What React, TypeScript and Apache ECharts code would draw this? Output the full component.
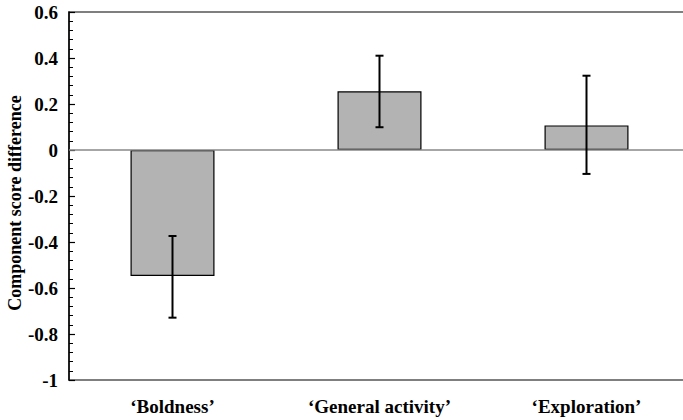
import React, { useEffect, useRef } from "react";
import * as echarts from "echarts";

const categories = ["\u2018Boldness\u2019", "\u2018General activity\u2019", "\u2018Exploration\u2019"];
const means = [-0.548, 0.255, 0.107];
const errLow = [-0.729, 0.099, -0.104];
const errHigh = [-0.374, 0.41, 0.323];
const yTicks = { min: -1, max: 0.6, interval: 0.2 };

const FONT = "Liberation Serif";

export default function App() {
  const ref = useRef<HTMLDivElement>(null);
  useEffect(() => {
    const chart = echarts.init(ref.current!, null, { renderer: "svg" });
    const errData = categories.map((_, i) => [i, errLow[i], errHigh[i]]);
    chart.setOption({
      animation: false,
      grid: {
        left: 69,
        top: 12,
        width: 621,
        height: 368,
        outerBoundsMode: "none",
        containLabel: false,
        show: true,
        borderColor: "#555",
        borderWidth: 1.5,
        backgroundColor: "transparent",
      },
      xAxis: {
        type: "category",
        data: categories,
        axisLine: { show: false, onZero: false },
        axisTick: { show: false },
        axisLabel: {
          margin: 17,
          fontFamily: FONT,
          fontWeight: "bold",
          fontSize: 19,
          color: "#000",
        },
      },
      yAxis: {
        type: "value",
        min: yTicks.min,
        max: yTicks.max,
        interval: yTicks.interval,
        name: "Component score difference",
        nameLocation: "middle",
        nameGap: 45,
        nameMoveOverlap: false,
        nameTextStyle: {
          fontFamily: FONT,
          fontWeight: "bold",
          fontSize: 18,
          color: "#000",
          padding: [0, 14, 0, 0],
        },
        axisLine: { show: true, lineStyle: { color: "#000", width: 1.5 } },
        axisTick: { show: true, inside: true, length: 6, lineStyle: { color: "#000", width: 1.2 } },
        minorTick: { show: true, splitNumber: 5, length: 4, lineStyle: { color: "#000", width: 1 } },
        splitLine: { show: false },
        axisLabel: {
          margin: 11,
          fontFamily: FONT,
          fontWeight: "bold",
          fontSize: 19,
          color: "#000",
          formatter: (v: number) => {
            const r = Math.round(v * 10) / 10;
            return r === 0 ? "0" : String(r);
          },
        },
      },
      series: [
        {
          type: "bar",
          data: means,
          barWidth: 84,
          itemStyle: { color: "#b3b3b3", borderColor: "#000", borderWidth: 1.2 },
          markLine: {
            silent: true,
            symbol: "none",
            label: { show: false },
            lineStyle: { color: "#888", width: 1.5, type: "solid" },
            data: [{ yAxis: 0 }],
          },
          z: 2,
        },
        {
          type: "custom",
          data: errData,
          z: 5,
          renderItem: (params: any, api: any) => {
            const x = api.value(0);
            const lo = api.coord([x, api.value(1)]);
            const hi = api.coord([x, api.value(2)]);
            const cap = 4;
            const style = { stroke: "#000", lineWidth: 2 };
            return {
              type: "group",
              children: [
                { type: "line", shape: { x1: lo[0], y1: lo[1], x2: hi[0], y2: hi[1] }, style },
                { type: "line", shape: { x1: lo[0] - cap, y1: lo[1], x2: lo[0] + cap, y2: lo[1] }, style },
                { type: "line", shape: { x1: hi[0] - cap, y1: hi[1], x2: hi[0] + cap, y2: hi[1] }, style },
              ],
            };
          },
        },
      ],
    });
    return () => chart.dispose();
  }, []);
  return <div ref={ref} style={{ width: 683, height: 420, position: "absolute", left: 0, top: 0 }} />;
}
